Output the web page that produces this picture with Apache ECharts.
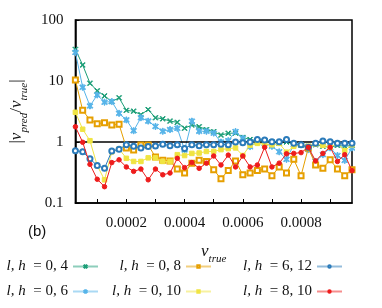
<!DOCTYPE html>
<html><head><meta charset="utf-8">
<script src="https://cdn.jsdelivr.net/npm/echarts@6/dist/echarts.min.js"></script>
<style>html,body{margin:0;padding:0;background:#fff}#c{width:382px;height:308px}</style>
</head><body><div id="c"></div>
<script>
const xValues = [0.000025,0.00005,0.000075,0.0001,0.000125,0.00015,0.000175,0.0002,0.000225,0.00025,
  0.000275,0.0003,0.000325,0.00035,0.000375,0.0004,0.000425,0.00045,0.000475,0.0005,
  0.000525,0.00055,0.000575,0.0006,0.000625,0.00065,0.000675,0.0007,0.000725,0.00075,
  0.000775,0.0008,0.000825,0.00085,0.000875,0.0009,0.000925,0.00095,0.000975];
const seriesNames = ['l, h = 0, 4','l, h = 0, 6','l, h = 0, 8','l, h = 0, 10','l, h = 6, 12','l, h = 8, 10'];
const lh0_4 = [33,18.3,9.2,6.9,5.7,4.6,5.3,3.3,3.2,2.8,3.4,2.5,2.4,2.2,2.1,1.68,1.9,1.78,1.6,1.48,
  1.3,1.39,1.4,1.19,1.1,1.05,1.05,1.0,0.95,1.0,0.92,0.88,0.85,0.9,0.85,0.82,0.88,0.85,0.88];
const lh0_6 = [29.5,7.9,3.9,5.9,4.5,4.6,2.95,2.3,1.53,2.5,2.2,1.8,1.5,1.6,1.68,0.74,2.2,1.5,1.5,1.4,
  1.0,1.05,1.48,1.15,0.84,1.0,0.95,0.85,0.69,0.52,0.9,0.92,0.75,0.48,0.62,0.8,0.6,0.5,0.8];
const lh0_8 = [10.4,3.3,2.3,2.0,2.07,1.9,1.95,0.8,0.74,0.89,0.89,0.57,0.5,0.49,0.36,0.31,0.45,0.5,0.48,0.35,
  0.25,0.34,0.49,0.29,0.31,0.34,0.36,0.28,0.39,0.31,0.52,0.28,0.8,0.42,0.37,0.51,0.36,0.28,0.35];
const lh0_10 = [3.07,1.62,1.05,0.41,0.24,0.69,0.77,0.54,0.48,0.48,0.55,0.55,0.48,0.48,0.62,0.6,0.65,0.66,0.7,0.7,
  0.75,0.78,0.8,0.6,0.89,0.95,0.92,0.9,0.95,0.68,0.85,0.9,0.85,0.92,0.88,0.82,0.95,0.72,0.9];
const lh6_12 = [0.72,0.69,0.53,0.41,0.37,0.71,0.76,0.9,0.85,0.8,0.84,0.86,0.92,0.87,0.9,0.78,0.9,0.87,0.9,0.9,
  0.92,0.9,1.0,0.97,1.0,1.1,1.08,1.01,1.01,1.1,0.95,0.9,0.82,0.95,1.04,1.01,0.95,0.95,0.95];
const lh8_10 = [1.78,0.99,0.43,0.245,0.185,0.46,0.51,0.39,0.33,0.36,0.24,0.36,0.29,0.31,0.54,0.38,0.46,0.37,0.45,0.59,
  0.42,0.61,0.39,0.59,0.39,0.42,0.82,0.39,0.45,0.64,0.65,0.67,0.82,0.49,0.65,0.82,0.48,0.62,0.34];
const xTicks = [0.0001,0.0002,0.0003,0.0004,0.0005,0.0006,0.0007,0.0008,0.0009];
const xTickLabels = [0.0002,0.0004,0.0006,0.0008];
const yTickLabels = [0.1,1,10,100];

const colors = ['#1b9e77','#56b4e9','#e69f00','#f0e442','#2b7bba','#ee1c1c'];
const xSym = 'path://M0,1L1,0L5,4L9,0L10,1L6,5L10,9L9,10L5,6L1,10L0,9L4,5Z';
const astSym = 'path://M4.2,0H5.8V3.4L8.8,0.8L10,2L6.9,5L10,8L8.8,9.2L5.8,6.6V10H4.2V6.6L1.2,9.2L0,8L3.1,5L0,2L1.2,0.8L4.2,3.4Z';
const symbols = [xSym, astSym, 'emptyRect', 'rect', 'emptyCircle', 'circle'];
const symSizes = [5,6,5,4.5,5,4.5];
const allData = [lh0_4, lh0_6, lh0_8, lh0_10, lh6_12, lh8_10];
const serif = 'Liberation Serif';

const series = allData.map((d, i) => ({
  name: seriesNames[i], type: 'line',
  data: d.map((v, j) => [xValues[j], v]),
  symbol: symbols[i], symbolSize: symSizes[i], symbolKeepAspect: true,
  lineStyle: {color: colors[i], width: 1},
  itemStyle: {color: colors[i], borderColor: colors[i], borderWidth: 1},
  z: 3 + i,
  animation: false
}));
series[0].markLine = {
  silent: true, symbol: 'none', animation: false,
  data: [{yAxis: 1}],
  lineStyle: {color: '#000', width: 1.5, type: 'solid'},
  label: {show: false}
};

const legendRich = {
  i: {fontFamily: serif, fontStyle: 'italic', fontSize: 15, color: '#111'},
  n: {fontFamily: serif, fontSize: 15, color: '#111'}
};
const legPos = [
  {right: 283, top: 259}, {right: 283, top: 284},
  {right: 170, top: 259}, {right: 170, top: 284},
  {right: 39, top: 259}, {right: 39, top: 284}
];
const legends = seriesNames.map((n, i) => ({
  data: [n], right: legPos[i].right, top: legPos[i].top, padding: 0,
  align: 'right', itemWidth: 25, itemHeight: 3, itemGap: 0,
  lineStyle: {opacity: 0.5},
  formatter: (name) => '{i|l, h}{n| ' + name.slice(4) + '}',
  textStyle: {rich: legendRich}
}));

const chart = echarts.init(document.getElementById('c'), null, {renderer: 'canvas'});
chart.setOption({
  animation: false,
  backgroundColor: '#fff',
  title: {text: '(b)', left: 28, top: 224, padding: 0, textStyle: {fontFamily: 'Liberation Sans', fontWeight: 'normal', fontSize: 15, color: '#111'}},
  grid: {left: 73, right: 30, top: 20, bottom: 105, show: true, borderColor: '#000', borderWidth: 1.5, backgroundColor: 'transparent'},
  legend: legends,
  xAxis: {
    type: 'value', min: 0.000025, max: 0.000975,
    name: '{v|ν}{s|true}', nameLocation: 'middle', nameGap: 40,
    nameTextStyle: {rich: {v: {fontFamily: serif, fontStyle: 'italic', fontSize: 17, color: '#111', lineHeight: 22, verticalAlign: 'top'}, s: {fontFamily: serif, fontStyle: 'italic', fontSize: 11, color: '#111', lineHeight: 22, verticalAlign: 'bottom'}}},
    axisLine: {lineStyle: {color: '#000', width: 1.5}},
    axisTick: {inside: true, length: 4, customValues: xTicks, lineStyle: {color: '#000'}},
    axisLabel: {customValues: xTickLabels, formatter: v => v.toFixed(4), color: '#111', fontFamily: serif, fontSize: 15, margin: 13},
    splitLine: {show: false}
  },
  yAxis: {
    type: 'log', min: 0.1, max: 100, logBase: 10,
    name: '{a||}{v|ν}{s|pred}{a|/}{v|ν}{s|true}{a||}', nameLocation: 'middle', nameGap: 44, nameRotate: 90,
    nameTextStyle: {rich: {
      a: {fontFamily: serif, fontSize: 17, color: '#111', lineHeight: 22, verticalAlign: 'top'},
      v: {fontFamily: serif, fontStyle: 'italic', fontSize: 17, color: '#111', lineHeight: 22, verticalAlign: 'top'},
      s: {fontFamily: serif, fontStyle: 'italic', fontSize: 11, color: '#111', lineHeight: 22, verticalAlign: 'bottom'}}},
    axisLine: {lineStyle: {color: '#000', width: 1.5}},
    axisTick: {inside: true, length: 4, lineStyle: {color: '#000'}},
    minorTick: {show: false},
    axisLabel: {customValues: yTickLabels, formatter: v => String(v), color: '#111', fontFamily: serif, fontSize: 15, margin: 12},
    splitLine: {show: false}
  },
  series: series
});
</script></body></html>
